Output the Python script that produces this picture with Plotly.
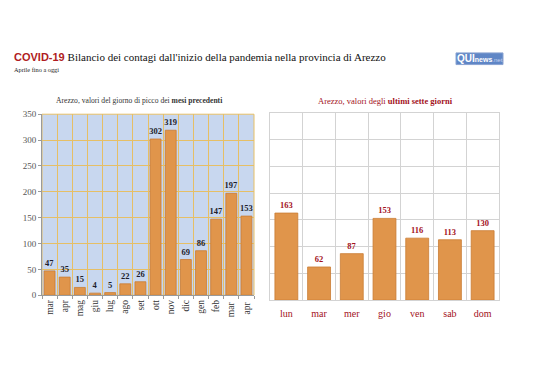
import plotly.graph_objects as go

# page body has an 8px default margin; figure sized to fit window
OFF = 8
W, H = 530, 372

months = ["mar", "apr", "mag", "giu", "lug", "ago", "set", "ott", "nov", "dic", "gen", "feb", "mar ", "apr "]
month_vals = [47, 35, 15, 4, 5, 22, 26, 302, 319, 69, 86, 147, 197, 153]

days = ["lun", "mar", "mer", "gio", "ven", "sab", "dom"]
day_vals = [163, 62, 87, 153, 116, 113, 130]

y_ticks = [0, 50, 100, 150, 200, 250, 300, 350]

SERIF = "Liberation Serif"
BAR = "#e0954b"
BAR_LINE = "#c97c34"
DARKRED = "#a3121c"

def px(x):
    return (x - OFF) / W

def py(y):
    return 1 - (y - OFF) / H

fig = go.Figure()

fig.add_trace(go.Bar(
    x=months, y=month_vals, xaxis="x", yaxis="y",
    marker=dict(color=BAR, line=dict(color=BAR_LINE, width=0.8)),
    width=0.72,
    text=[str(v) for v in month_vals], textposition="outside",
    textfont=dict(family=SERIF, size=8.5, color="#1d1d2b"),
    texttemplate="<b>%{text}</b>", constraintext="none",
    cliponaxis=False, hoverinfo="skip",
))

fig.add_trace(go.Bar(
    x=days, y=day_vals, xaxis="x2", yaxis="y2",
    marker=dict(color=BAR, line=dict(color=BAR_LINE, width=0.8)),
    width=0.7,
    text=[str(v) for v in day_vals], textposition="outside",
    textfont=dict(family=SERIF, size=8.5, color=DARKRED),
    texttemplate="<b>%{text}</b>", constraintext="none",
    cliponaxis=False, hoverinfo="skip",
))

GOLD = "#e6bf66"
GRAY = "#d3d3d3"

fig.update_layout(
    width=W, height=H, autosize=False,
    margin=dict(l=0, r=0, t=0, b=0),
    paper_bgcolor="white", plot_bgcolor="white",
    showlegend=False,
    xaxis=dict(
        domain=[px(42), px(254)], anchor="y", type="category",
        tickson="boundaries", showgrid=True, gridcolor=GOLD, gridwidth=1,
        tickangle=-90, tickfont=dict(family=SERIF, size=9.5, color="#333"),
        showline=True, linecolor="#9a9a9a", mirror=False,
        ticks="outside", ticklen=3, tickcolor="#9a9a9a",
    ),
    yaxis=dict(
        domain=[py(298), py(112)], anchor="x", range=[0, 350],
        tickvals=y_ticks, showgrid=True, gridcolor=GOLD, gridwidth=1,
        tickfont=dict(family=SERIF, size=9, color="#555"),
        showline=True, linecolor="#9a9a9a",
        ticks="outside", ticklen=3, tickcolor="#9a9a9a", zeroline=False,
    ),
    xaxis2=dict(
        domain=[px(270), px(499)], anchor="y2", type="category",
        tickson="boundaries", showgrid=True, gridcolor=GRAY, gridwidth=1,
        tickfont=dict(family=SERIF, size=10, color=DARKRED),
        ticklabelstandoff=4,
        showline=True, linecolor=GRAY, mirror=True, ticks="",
    ),
    yaxis2=dict(
        domain=[py(303), py(111)], anchor="x2", range=[0, 350],
        tickvals=y_ticks, showgrid=True, gridcolor=GRAY, gridwidth=1,
        showticklabels=False, showline=True, linecolor=GRAY, mirror=True,
        zeroline=False,
    ),
)

# blue background for the left plot area
fig.add_shape(type="rect", xref="paper", yref="paper", layer="below",
              x0=px(42), x1=px(254), y0=py(298), y1=py(112),
              fillcolor="#c8d7ef", line=dict(color=GOLD, width=1))

fig.add_shape(type="rect", xref="paper", yref="paper", layer="below",
              x0=px(456), x1=px(503), y0=py(61), y1=py(49),
              fillcolor="#5f86c6", line=dict(color="#8aa4d2", width=1))

annotations = [
    dict(x=px(12), y=py(53), xanchor="left", yanchor="middle",
         text="<span style='font-family:Liberation Sans;font-weight:bold;color:#b01c22'>COVID-19</span> "
              "<span style='font-family:Liberation Serif'>Bilancio dei contagi dall'inizio della pandemia nella provincia di Arezzo</span>",
         font=dict(size=11, color="#111")),
    dict(x=px(12), y=py(66), xanchor="left", yanchor="middle",
         text="Aprile fino a oggi", font=dict(family=SERIF, size=6.3, color="#222")),
    dict(x=px(139), y=py(98), xanchor="center", yanchor="middle",
         text="Arezzo, valori del giorno di picco dei <b>mesi precedenti</b>",
         font=dict(family=SERIF, size=7.6, color="#333")),
    dict(x=px(385), y=py(98), xanchor="center", yanchor="middle",
         text="Arezzo, valori degli <b>ultimi sette giorni</b>",
         font=dict(family=SERIF, size=8.5, color=DARKRED)),
    dict(x=px(479.5), y=py(55), xanchor="center", yanchor="middle",
         text="<b>QUI</b><span style='font-size:7px'><b>news</b></span><span style='font-size:6px;color:#c8d4ee'>.net</span>",
         font=dict(family="Liberation Sans", size=10, color="white")),
]
for a in annotations:
    a.update(xref="paper", yref="paper", showarrow=False)
fig.update_layout(annotations=annotations)

fig.write_html("out.html")
